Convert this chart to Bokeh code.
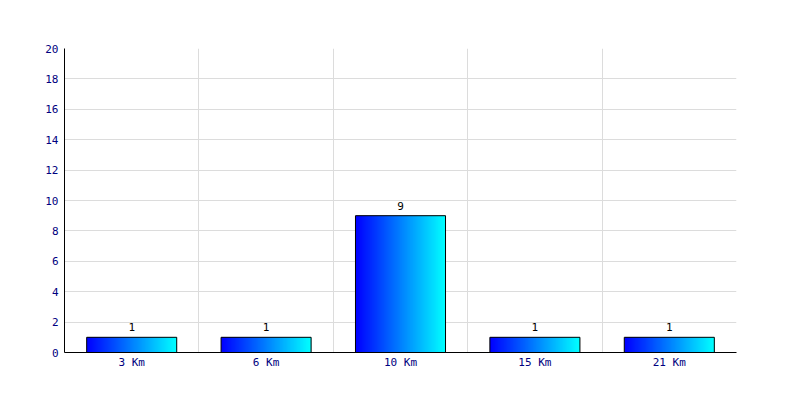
from bokeh.plotting import figure
from bokeh.models import FixedTicker, Range1d, ColumnDataSource
from bokeh.core.properties import value
from bokeh.embed import file_html
from bokeh.resources import INLINE

categories = ["3 Km", "6 Km", "10 Km", "15 Km", "21 Km"]
counts = [1, 1, 9, 1, 1]
y_ticks = [0, 2, 4, 6, 8, 10, 12, 14, 16, 18, 20]

BAR_W = 0.67
N_SLICES = 90

p = figure(width=784, height=384, output_backend="svg", toolbar_location=None,
           x_range=Range1d(0, len(categories)), y_range=Range1d(0, 20),
           min_border_left=64, min_border_right=48, min_border_top=48, min_border_bottom=32)
p.outline_line_color = None
p.background_fill_color = "white"
p.border_fill_color = "white"

# gradient bars via thin overlapping slices
lefts, rights, tops, colors = [], [], [], []
for i, c in enumerate(counts):
    x0 = i + 0.5 - BAR_W / 2
    step = BAR_W / N_SLICES
    for k in range(N_SLICES):
        t = k / (N_SLICES - 1)
        g = int(round(255 * t))
        lefts.append(x0 + k * step)
        rights.append(min(x0 + (k + 2) * step, x0 + BAR_W))
        tops.append(c)
        colors.append("#%02x%02x%02x" % (0, g, 255))
p.quad(left=lefts, right=rights, bottom=0, top=tops, fill_color=colors, line_color=None)

centers = [i + 0.5 for i in range(len(categories))]
src = ColumnDataSource(dict(x=centers, top=counts, lab=[str(c) for c in counts]))
p.vbar(x="x", top="top", width=BAR_W, source=src, fill_color=None, line_color="black", line_width=1)
p.text(x="x", y="top", text="lab", source=src, text_align="center", text_baseline="bottom",
       y_offset=-6, text_font=value("DejaVu Sans Mono"), text_font_size="11px", text_color="black")

# axes
p.xaxis.ticker = FixedTicker(ticks=centers)
p.xaxis.major_label_overrides = {c: lab for c, lab in zip(centers, categories)}
p.yaxis.ticker = FixedTicker(ticks=y_ticks)
for ax in (p.xaxis[0], p.yaxis[0]):
    ax.major_tick_line_color = None
    ax.minor_tick_line_color = None
    ax.major_tick_out = 0
    ax.major_tick_in = 0
    ax.minor_tick_out = 0
    ax.axis_line_color = "black"
    ax.axis_line_width = 1
    ax.major_label_text_font = "DejaVu Sans Mono"
    ax.major_label_text_font_size = "11px"
    ax.major_label_text_color = "#000080"
p.xaxis.major_label_standoff = 3
p.yaxis.major_label_standoff = 6

p.xgrid.ticker = FixedTicker(ticks=list(range(len(categories) + 1)))
p.ygrid.ticker = FixedTicker(ticks=y_ticks)
p.xgrid.grid_line_color = "#dcdcdc"
p.ygrid.grid_line_color = "#dcdcdc"

open("out.html", "w").write(file_html(p, INLINE))
